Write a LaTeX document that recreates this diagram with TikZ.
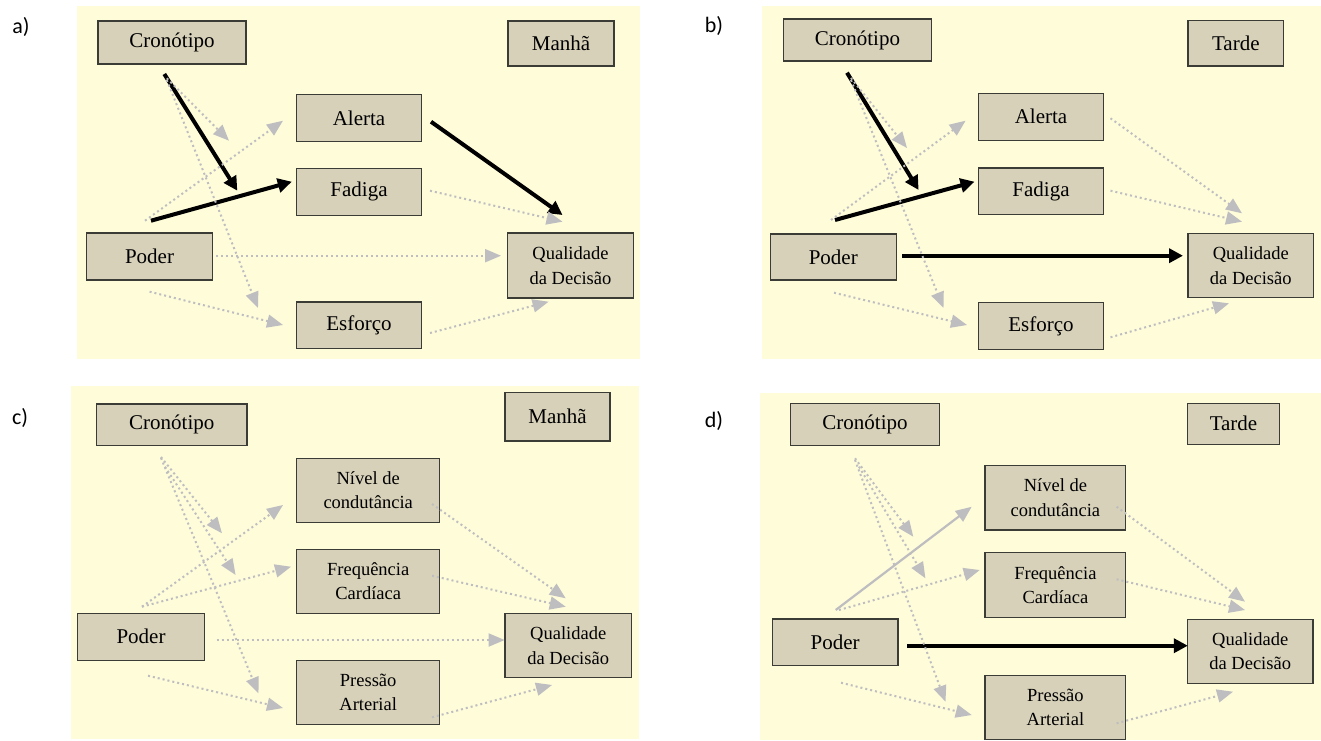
\documentclass[tikz,border=0pt]{standalone}
\usepackage{fontspec}
\setmainfont{Liberation Serif}
\newfontfamily\boxfont{Liberation Serif}
\newfontfamily\labfont{Carlito}
\usetikzlibrary{arrows.meta}
\definecolor{bgyellow}{RGB}{255,252,218}
\definecolor{boxfill}{RGB}{215,209,185}
\definecolor{boxline}{RGB}{60,60,55}
\definecolor{arrgray}{RGB}{190,190,192}
\tikzset{
  panel/.style={fill=bgyellow, draw=none},
  box/.style={draw=boxline, fill=boxfill, line width=1.1pt, inner sep=0pt, align=center,
    font=\boxfont\fontsize{21}{24}\selectfont},
  box2/.style={box, font=\boxfont\fontsize{18.5}{24.5}\selectfont},
  gdot/.style={draw=arrgray, line width=2pt, dash pattern=on 2pt off 3pt,
    -{Triangle[length=16pt,width=13pt]}, arrgray},
  gsolid/.style={draw=arrgray, line width=2.2pt, -{Triangle[length=16pt,width=13pt]}, arrgray},
  bsolid/.style={draw=black, line width=4pt, -{Triangle[length=14pt,width=14pt]}},
  lab/.style={font=\labfont\fontsize{22}{24}\selectfont, inner sep=0pt}
}
\begin{document}
\begin{tikzpicture}[x=1pt,y=-1pt]
\useasboundingbox (0,0) rectangle (1321,740);
% backgrounds
\fill[panel] (76.6,6) rectangle (640,359);
\fill[panel] (762,6) rectangle (1321,359);
\fill[panel] (70.7,386) rectangle (639.4,739);
\fill[panel] (760.4,393.3) rectangle (1321,740);
% labels
\node[lab] (la) at (21,27) {a)};
\node[lab] (lb) at (714,26) {b)};
\node[lab] (lc) at (20,418) {c)};
\node[lab] (ld) at (714,421) {d)};

% ---------------- panel a ----------------
\node[box, minimum width=148pt, minimum height=43pt] (aCron) at (172,42.5) {Cronótipo};
\node[box, minimum width=106pt, minimum height=45pt] (aMan) at (561,43.5) {Manhã};
\node[box, minimum width=125pt, minimum height=46.6pt] (aAle) at (359,118) {Alerta};
\node[box, minimum width=125pt, minimum height=46.6pt] (aFad) at (359,191.8) {Fadiga};
\node[box, minimum width=126pt, minimum height=47pt] (aPod) at (149.5,256.5) {Poder};
\node[box2, minimum width=125.7pt, minimum height=65pt] (aQual) at (570.5,265.5) {Qualidade\\da Decisão};
\node[box, minimum width=125pt, minimum height=46.6pt] (aEsf) at (359,325.3) {Esforço};

\coordinate (aCronA) at (164.3,74);   \coordinate (aFadIn1) at (237.3,190.7);
\coordinate (aPodA) at (151,220.7);   \coordinate (aFadIn2) at (291.8,181.7);
\coordinate (aAleOut) at (431,121.7); \coordinate (aQualIn1) at (562.5,215);
\draw[bsolid] (aCronA) -- (aFadIn1);
\draw[bsolid] (aPodA) -- (aFadIn2);
\draw[bsolid] (aAleOut) -- (aQualIn1);

\coordinate (aCronB) at (166.8,78.3); \coordinate (aAleIn1) at (229,140.7);
\coordinate (aCronC) at (166.8,80);   \coordinate (aEsfIn1) at (258,308);
\coordinate (aPodB) at (145,220.7);   \coordinate (aAleIn2) at (283,120.7);
\coordinate (aPodC) at (216,255.7);   \coordinate (aQualIn2) at (501,255.7);
\coordinate (aPodD) at (149.6,291.7); \coordinate (aEsfIn2) at (283,325);
\coordinate (aFadOut) at (430,190.7); \coordinate (aQualIn3) at (562.5,221.7);
\coordinate (aEsfOut) at (430,333);   \coordinate (aQualIn4) at (548.6,301.7);
\draw[gdot] (aCronB) -- (aAleIn1);
\draw[gdot] (aCronC) -- (aEsfIn1);
\draw[gdot] (aPodB) -- (aAleIn2);
\draw[gdot] (aPodC) -- (aQualIn2);
\draw[gdot] (aPodD) -- (aEsfIn2);
\draw[gdot] (aFadOut) -- (aQualIn3);
\draw[gdot] (aEsfOut) -- (aQualIn4);

% ---------------- panel b ----------------
\node[box, minimum width=148pt, minimum height=42pt] (bCron) at (857.4,40) {Cronótipo};
\node[box, minimum width=95.6pt, minimum height=45.3pt] (bTar) at (1235.8,43.3) {Tarde};
\node[box, minimum width=124.3pt, minimum height=46.7pt] (bAle) at (1041,116.7) {Alerta};
\node[box, minimum width=124.3pt, minimum height=46.7pt] (bFad) at (1041,191.3) {Fadiga};
\node[box, minimum width=125.5pt, minimum height=46pt] (bPod) at (833.3,257) {Poder};
\node[box2, minimum width=125.7pt, minimum height=64.4pt] (bQual) at (1250.8,265.5) {Qualidade\\da Decisão};
\node[box, minimum width=124.3pt, minimum height=46.7pt] (bEsf) at (1041,326) {Esforço};

\coordinate (bCronA) at (847,72.7);   \coordinate (bFadIn1) at (918.6,190);
\coordinate (bPodA) at (835,220);     \coordinate (bFadIn2) at (974.5,181.7);
\coordinate (bPodB) at (902,255.7);   \coordinate (bQualIn1) at (1183,255.7);
\draw[bsolid] (bCronA) -- (bFadIn1);
\draw[bsolid] (bPodA) -- (bFadIn2);
\draw[bsolid] (bPodB) -- (bQualIn1);

\coordinate (bCronB) at (851,78);     \coordinate (bAleIn1) at (907,148);
\coordinate (bCronC) at (851,80);     \coordinate (bEsfIn1) at (943.5,308);
\coordinate (bPodC) at (831,220);     \coordinate (bAleIn2) at (965.6,120.7);
\coordinate (bPodD) at (834,292.7);   \coordinate (bEsfIn2) at (967,325);
\coordinate (bAleOut) at (1110.5,118.3); \coordinate (bQualIn2) at (1242,213.3);
\coordinate (bFadOut) at (1110.5,190.7); \coordinate (bQualIn3) at (1242,221.7);
\coordinate (bEsfOut) at (1110.5,337.3); \coordinate (bQualIn4) at (1229,303.3);
\draw[gdot] (bCronB) -- (bAleIn1);
\draw[gdot] (bCronC) -- (bEsfIn1);
\draw[gdot] (bPodC) -- (bAleIn2);
\draw[gdot] (bPodD) -- (bEsfIn2);
\draw[gdot] (bAleOut) -- (bQualIn2);
\draw[gdot] (bFadOut) -- (bQualIn3);
\draw[gdot] (bEsfOut) -- (bQualIn4);

% ---------------- panel c ----------------
\node[box, minimum width=150.4pt, minimum height=41.7pt] (cCron) at (171.8,424.8) {Cronótipo};
\node[box, minimum width=105pt, minimum height=48.3pt] (cMan) at (557.5,416.8) {Manhã};
\node[box2, minimum width=143.2pt, minimum height=64pt] (cNiv) at (368.2,490.3) {Nível de\\condutância};
\node[box2, minimum width=143.2pt, minimum height=64pt] (cFre) at (368.2,581.3) {Frequência\\Cardíaca};
\node[box, minimum width=126.7pt, minimum height=46.7pt] (cPod) at (141,636.7) {Poder};
\node[box2, minimum width=126.4pt, minimum height=64.4pt] (cQual) at (568.2,645.5) {Qualidade\\da Decisão};
\node[box2, minimum width=143.2pt, minimum height=64.3pt] (cPre) at (368.2,692.2) {Pressão\\Arterial};

\coordinate (cCronA) at (161,457);    \coordinate (cNivIn1) at (222,533.3);
\coordinate (cCronB) at (165,466.7);  \coordinate (cFreIn1) at (235.6,575);
\coordinate (cCronC) at (161,458);    \coordinate (cPreIn1) at (258.5,693.3);
\coordinate (cPodA) at (142,606.7);   \coordinate (cNivIn2) at (283,505);
\coordinate (cPodB) at (142,606.7);   \coordinate (cFreIn2) at (291,566.7);
\coordinate (cPodC) at (216.5,640);   \coordinate (cQualIn1) at (504.6,640);
\coordinate (cPodD) at (148,675.7);   \coordinate (cPreIn2) at (283,708);
\coordinate (cNivOut) at (432,504);   \coordinate (cQualIn2) at (565.7,598.3);
\coordinate (cFreOut) at (432,575.7); \coordinate (cQualIn3) at (565.7,606.7);
\coordinate (cPreOut) at (432,717.3); \coordinate (cQualIn4) at (552,685);
\draw[gdot] (cCronA) -- (cNivIn1);
\draw[gdot] (cCronB) -- (cFreIn1);
\draw[gdot] (cCronC) -- (cPreIn1);
\draw[gdot] (cPodA) -- (cNivIn2);
\draw[gdot] (cPodB) -- (cFreIn2);
\draw[gdot] (cPodC) -- (cQualIn1);
\draw[gdot] (cPodD) -- (cPreIn2);
\draw[gdot] (cNivOut) -- (cQualIn2);
\draw[gdot] (cFreOut) -- (cQualIn3);
\draw[gdot] (cPreOut) -- (cQualIn4);

% ---------------- panel d ----------------
\node[box, minimum width=149pt, minimum height=41.7pt] (dCron) at (865,424.2) {Cronótipo};
\node[box, minimum width=92pt, minimum height=41pt] (dTar) at (1233.5,423.8) {Tarde};
\node[box2, minimum width=140.8pt, minimum height=64.3pt] (dNiv) at (1055.4,497.8) {Nível de\\condutância};
\node[box2, minimum width=140.8pt, minimum height=64.6pt] (dFre) at (1055.4,585) {Frequência\\Cardíaca};
\node[box, minimum width=125.5pt, minimum height=46.7pt] (dPod) at (835.2,642.3) {Poder};
\node[box2, minimum width=125.6pt, minimum height=64.3pt] (dQual) at (1250.2,651.2) {Qualidade\\da Decisão};
\node[box2, minimum width=140.8pt, minimum height=64.3pt] (dPre) at (1055.4,707.2) {Pressão\\Arterial};

\coordinate (dPodA) at (907.3,645.7); \coordinate (dQualIn1) at (1187.8,645.7);
\draw[bsolid] (dPodA) -- (dQualIn1);
\coordinate (dPodB) at (835.7,610);   \coordinate (dNivIn1) at (971.7,506.7);
\draw[gsolid] (dPodB) -- (dNivIn1);

\coordinate (dCronA) at (855,458.3);  \coordinate (dNivIn2) at (913.3,536.7);
\coordinate (dCronB) at (859,466.7);  \coordinate (dFreIn1) at (925.4,578.3);
\coordinate (dCronC) at (855,460);    \coordinate (dPreIn1) at (945.5,701.7);
\coordinate (dPodC) at (839,610);     \coordinate (dFreIn2) at (979.7,570);
\coordinate (dPodD) at (841,682.7);   \coordinate (dPreIn2) at (971.7,715);
\coordinate (dNivOut) at (1116.6,506.7); \coordinate (dQualIn2) at (1245,601.7);
\coordinate (dFreOut) at (1116.6,579.3); \coordinate (dQualIn3) at (1245,610);
\coordinate (dPreOut) at (1116.6,723.3); \coordinate (dQualIn4) at (1233,691.7);
\draw[gdot] (dCronA) -- (dNivIn2);
\draw[gdot] (dCronB) -- (dFreIn1);
\draw[gdot] (dCronC) -- (dPreIn1);
\draw[gdot] (dPodC) -- (dFreIn2);
\draw[gdot] (dPodD) -- (dPreIn2);
\draw[gdot] (dNivOut) -- (dQualIn2);
\draw[gdot] (dFreOut) -- (dQualIn3);
\draw[gdot] (dPreOut) -- (dQualIn4);
\end{tikzpicture}
\end{document}
